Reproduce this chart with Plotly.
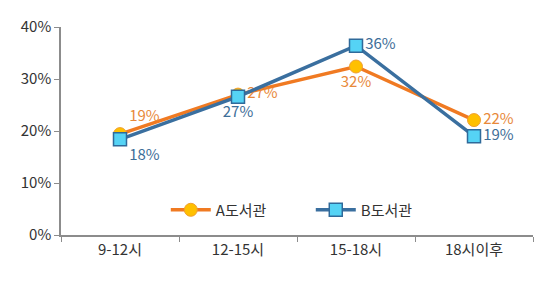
import plotly.graph_objects as go

categories = ["9-12시", "12-15시", "15-18시", "18시이후"]
series_a_name = "A도서관"
series_b_name = "B도서관"
series_a = [0.194, 0.270, 0.324, 0.221]
series_b = [0.184, 0.266, 0.364, 0.190]
y_ticks = [0, 0.1, 0.2, 0.3, 0.4]
y_tick_labels = ["0%", "10%", "20%", "30%", "40%"]

FONT = "Noto Sans CJK KR, Malgun Gothic, sans-serif"
FS = 15

fig = go.Figure()
fig.add_trace(go.Scatter(
    x=categories, y=series_a, name=series_a_name,
    mode="lines+markers+text",
    line=dict(color="#F07A22", width=3.5),
    marker=dict(symbol="circle", size=13, color="#FFC000",
                line=dict(color="#F0A030", width=1)),
    text=[f"{round(v*100)}%" for v in series_a],
    textposition=["top right", "middle right", "bottom center", "middle right"],
    textfont=dict(color="#E8893A", size=FS, family=FONT),
))
fig.add_trace(go.Scatter(
    x=categories, y=series_b, name=series_b_name,
    mode="lines+markers+text",
    line=dict(color="#3A6F9F", width=3.5),
    marker=dict(symbol="square", size=13, color="#55D3F5",
                line=dict(color="#2F6A9A", width=1.5)),
    text=[f"{round(v*100)}%" for v in series_b],
    textposition=["bottom right", "bottom center", "middle right", "middle right"],
    textfont=dict(color="#3D6E98", size=FS, family=FONT),
))

fig.update_layout(
    width=538, height=283,
    margin=dict(l=61, r=5, t=27, b=48),
    paper_bgcolor="white", plot_bgcolor="white",
    font=dict(family=FONT, size=FS, color="#333333"),
    showlegend=True,
    legend=dict(orientation="h", x=0.222, xanchor="left", y=0.12, yanchor="middle",
                font=dict(size=FS, color="#333333", family=FONT),
                bgcolor="rgba(0,0,0,0)", itemwidth=40, traceorder="normal",
                entrywidth=90),
    xaxis=dict(
        type="category", range=[-0.5, 3.5],
        showline=True, linecolor="#8C8C8C", linewidth=1.5,
        ticks="outside", ticklen=5, tickcolor="#8C8C8C", tickson="boundaries",
        showgrid=False, zeroline=False,
        tickfont=dict(size=FS, color="#333333", family=FONT),
    ),
    yaxis=dict(
        range=[0, 0.4], tickvals=y_ticks, ticktext=y_tick_labels,
        showline=True, linecolor="#8C8C8C", linewidth=1.5,
        ticks="outside", ticklen=5, tickcolor="#8C8C8C",
        showgrid=False, zeroline=False,
        tickfont=dict(size=FS, color="#333333", family=FONT),
    ),
)

fig.write_html("out.html", config={"displayModeBar": False},
               post_script="document.body.style.margin='0';document.body.style.overflow='hidden';")
